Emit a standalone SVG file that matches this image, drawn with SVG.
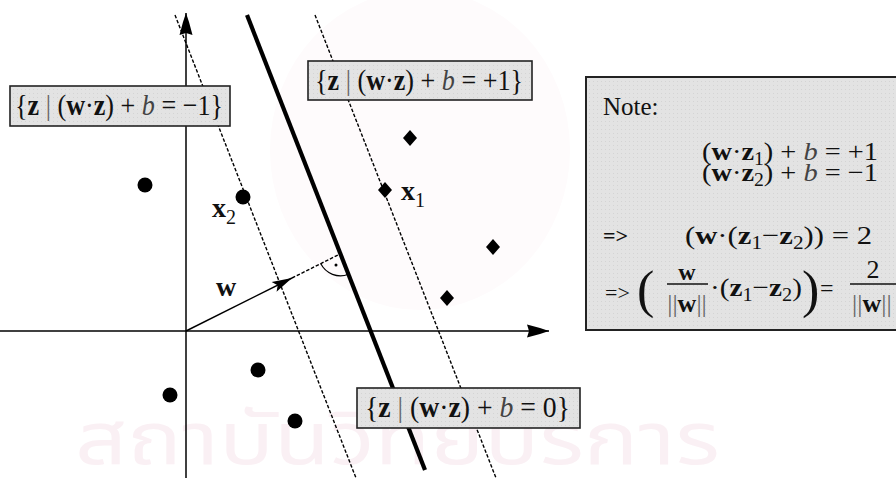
<svg xmlns="http://www.w3.org/2000/svg" width="896" height="478" viewBox="0 0 896 478">
<style>
.t{font-family:"Liberation Serif","Times New Roman",serif;fill:#111}
.b{font-weight:bold}
.i{font-style:italic;fill:#444}
.box{fill:url(#dots);stroke:#222;stroke-width:1.6}
.dash{stroke:#000;stroke-width:1.4;stroke-dasharray:3.5 1.8;fill:none}
.pt{fill:#000}
.wm{font-family:"Noto Sans Thai","Noto Sans","DejaVu Sans",sans-serif;fill:#faf0f4}
</style>
<defs>
<pattern id="dots" width="4" height="4" patternUnits="userSpaceOnUse">
<rect width="4" height="4" fill="#e3e3e3"/>
<rect x="1" y="1" width="1" height="1" fill="#d4d4d4"/>
</pattern>
<marker id="ah" markerWidth="24" markerHeight="14" refX="0" refY="0" viewBox="-23 -7 24 14" markerUnits="userSpaceOnUse" orient="auto">
<path d="M0,0 L-9,-3 L-22,-6.5 L-20,0 L-22,6.5 L-9,3 Z" fill="#000"/>
</marker>
<marker id="wh" markerWidth="22" markerHeight="12" refX="0" refY="0" viewBox="-21 -6 22 12" markerUnits="userSpaceOnUse" orient="auto">
<path d="M0,0 L-20,-5.5 L-16,0 L-20,5.5 Z" fill="#000"/>
</marker>
</defs>
<rect width="896" height="478" fill="#fff"/>
<g id="watermark">
<ellipse cx="420" cy="150" rx="150" ry="160" fill="#fefbfc"/>
<text class="wm" x="75" y="464" font-size="74" textLength="645" lengthAdjust="spacingAndGlyphs">สถาบันวิทยบริการ</text>
</g>
<g id="connectors">
<line x1="0" y1="331" x2="549" y2="331" stroke="#000" stroke-width="1.5" marker-end="url(#ah)"/>
<line x1="186" y1="478" x2="186" y2="13" stroke="#000" stroke-width="1.5" marker-end="url(#ah)"/>
<line class="dash" x1="175" y1="15" x2="356" y2="478"/>
<line class="dash" x1="315" y1="15" x2="496" y2="478"/>
<line x1="247" y1="15" x2="425" y2="470" stroke="#000" stroke-width="4.2"/>
<line x1="186" y1="331" x2="292" y2="278" stroke="#000" stroke-width="1.4" marker-end="url(#wh)"/>
<line class="dash" x1="292" y1="278" x2="340.4" y2="253.8"/>
<path d="M320.7,263.6 A22,22 0 0 0 348.4,274.3" fill="none" stroke="#000" stroke-width="1.2"/>
<circle cx="336" cy="265" r="1.5" fill="#000"/>
</g>
<g id="points-neg">
<circle class="pt" cx="145" cy="185" r="7.5"/>
<circle class="pt" cx="243" cy="197" r="7.5"/>
<circle class="pt" cx="258" cy="370" r="7.5"/>
<circle class="pt" cx="170" cy="395" r="7.5"/>
<circle class="pt" cx="295" cy="421" r="7.5"/>
</g>
<g id="points-pos">
<path class="pt" d="M410,130 L417,138 L410,146 L403,138 Z"/>
<path class="pt" d="M385,182 L392,190 L385,198 L378,190 Z"/>
<path class="pt" d="M493,239 L500,247 L493,255 L486,247 Z"/>
<path class="pt" d="M447,290 L454,298 L447,306 L440,298 Z"/>
</g>
<g id="label-w">
<text class="t b" x="216" y="296" font-size="28">w</text>
</g>
<g id="label-x1">
<text class="t b" x="401" y="200" font-size="28">x<tspan font-weight="normal" font-size="20" dy="7">1</tspan></text>
</g>
<g id="label-x2">
<text class="t b" x="212" y="217" font-size="28">x<tspan font-weight="normal" font-size="20" dy="7">2</tspan></text>
</g>
<g id="box-minus">
<rect class="box" x="10" y="86" width="220" height="40"/>
<text class="t" x="15" y="115" font-size="30" textLength="208" lengthAdjust="spacingAndGlyphs">{<tspan class="b">z</tspan> <tspan fill="#666">|</tspan> (<tspan class="b">w</tspan>·<tspan class="b">z</tspan>) + <tspan class="i">b</tspan> = −1}</text>
</g>
<g id="box-plus">
<rect class="box" x="308" y="61" width="224" height="39"/>
<text class="t" x="315" y="90" font-size="30" textLength="208" lengthAdjust="spacingAndGlyphs">{<tspan class="b">z</tspan> <tspan fill="#666">|</tspan> (<tspan class="b">w</tspan>·<tspan class="b">z</tspan>) + <tspan class="i">b</tspan> = +1}</text>
</g>
<g id="box-zero">
<rect class="box" x="357" y="388" width="223" height="40"/>
<text class="t" x="365" y="417" font-size="30" textLength="205" lengthAdjust="spacingAndGlyphs">{<tspan class="b">z</tspan> <tspan fill="#666">|</tspan> (<tspan class="b">w</tspan>·<tspan class="b">z</tspan>) + <tspan class="i">b</tspan> = 0}</text>
</g>
<g id="note">
<rect x="586" y="77" width="320" height="253" fill="url(#dots)" stroke="#222" stroke-width="2"/>
<text class="t" x="603" y="115" font-size="25">Note:</text>
<text class="t" x="702" y="160" font-size="26" textLength="176" lengthAdjust="spacingAndGlyphs">(<tspan class="b">w</tspan>·<tspan class="b">z</tspan><tspan font-size="18" dy="5">1</tspan><tspan dy="-5">) + </tspan><tspan class="i">b</tspan> = +1</text>
<text class="t" x="702" y="181" font-size="26" textLength="176" lengthAdjust="spacingAndGlyphs">(<tspan class="b">w</tspan>·<tspan class="b">z</tspan><tspan font-size="18" dy="5">2</tspan><tspan dy="-5">) + </tspan><tspan class="i">b</tspan> = −1</text>
<text class="t b" x="603" y="243" font-size="22">=&gt;</text>
<text class="t" x="685" y="244" font-size="26" textLength="187" lengthAdjust="spacingAndGlyphs">(<tspan class="b">w</tspan>·(<tspan class="b">z</tspan><tspan font-size="18" dy="5">1</tspan><tspan dy="-5">−</tspan><tspan class="b">z</tspan><tspan font-size="18" dy="5">2</tspan><tspan dy="-5">)) =   2</tspan></text>
<text class="t" x="605" y="300" font-size="22" fill="#555">=&gt;</text>
<text class="t" x="637" y="307" font-size="52">(</text>
<text class="t b" x="687" y="280" font-size="24" text-anchor="middle">w</text>
<line x1="667" y1="284" x2="708" y2="284" stroke="#111" stroke-width="1.4"/>
<text class="t" x="687" y="312" font-size="26" text-anchor="middle"><tspan fill="#666">||</tspan><tspan class="b">w</tspan><tspan fill="#666">||</tspan></text>
<text class="t" x="710" y="296" font-size="26" textLength="92" lengthAdjust="spacingAndGlyphs">·(<tspan class="b">z</tspan><tspan font-size="18" dy="5">1</tspan><tspan dy="-5">−</tspan><tspan class="b">z</tspan><tspan font-size="18" dy="5">2</tspan><tspan dy="-5">)</tspan></text>
<text class="t" x="802" y="307" font-size="52">)</text>
<text class="t" x="820" y="296" font-size="24" fill="#555">=</text>
<text class="t" x="873" y="278" font-size="26" text-anchor="middle">2</text>
<line x1="850" y1="284" x2="896" y2="284" stroke="#111" stroke-width="1.4"/>
<text class="t" x="852" y="312" font-size="26"><tspan fill="#666">||</tspan><tspan class="b">w</tspan><tspan fill="#666">||</tspan></text>
</g>
</svg>
